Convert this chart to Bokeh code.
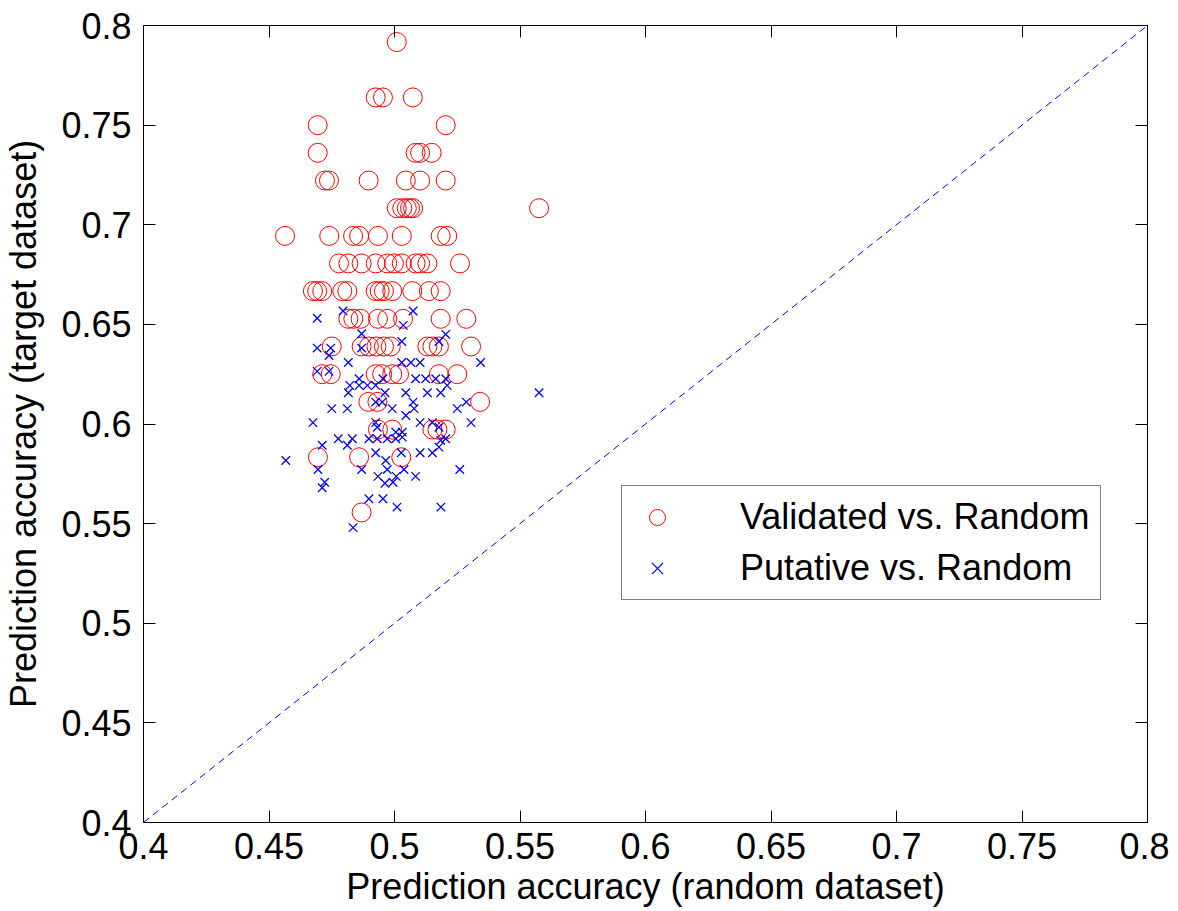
from bokeh.plotting import figure
from bokeh.models import Range1d, LinearAxis, FixedTicker, Legend, LegendItem
from bokeh.embed import file_html
from bokeh.resources import INLINE

# ---- data ----
tick_values = [0.4, 0.45, 0.5, 0.55, 0.6, 0.65, 0.7, 0.75, 0.8]
tick_labels = ["0.4", "0.45", "0.5", "0.55", "0.6", "0.65", "0.7", "0.75", "0.8"]

validated_x = [
    0.5009,
    0.4925, 0.4954, 0.5073,
    0.4694, 0.5204,
    0.4694, 0.5084, 0.5102, 0.5148,
    0.4723, 0.4739, 0.4897, 0.5045, 0.5102, 0.5204,
    0.5009, 0.5031, 0.5049, 0.5062, 0.5074, 0.5576,
    0.4564, 0.4740, 0.4835, 0.4859, 0.4934, 0.5029, 0.5184, 0.5210,
    0.4779, 0.4816, 0.4869, 0.4925, 0.4971, 0.4998, 0.5029, 0.5084, 0.5102, 0.5131, 0.5261,
    0.4675, 0.4692, 0.4712, 0.4792, 0.4812, 0.4925, 0.4941, 0.4958, 0.4991, 0.5071, 0.5137, 0.5184,
    0.4816, 0.4836, 0.4865, 0.4934, 0.4971, 0.5034, 0.5184, 0.5286,
    0.4750, 0.4869, 0.4898, 0.4928, 0.4958, 0.4985, 0.5131, 0.5151, 0.5177, 0.5305,
    0.4712, 0.4746, 0.4925, 0.4951, 0.4991, 0.5018, 0.5177, 0.5250,
    0.4896, 0.4932, 0.5341,
    0.4934, 0.4991, 0.5151, 0.5171, 0.5204,
    0.4695, 0.4859, 0.5027,
    0.4869,
]
validated_y = (
    [0.7917] * 1 + [0.7639] * 3 + [0.7500] * 2 + [0.7361] * 4 + [0.7222] * 6
    + [0.7083] * 6 + [0.6944] * 8 + [0.6806] * 11 + [0.6667] * 12 + [0.6528] * 8
    + [0.6389] * 10 + [0.6250] * 8 + [0.6111] * 3 + [0.5972] * 5 + [0.5833] * 3
    + [0.5556] * 1
)

putative_x = [
    0.4692, 0.4795, 0.5074, 0.5035, 0.4869, 0.5204, 0.4692, 0.4746, 0.4739, 0.4869,
    0.5029, 0.5177, 0.4816, 0.5029, 0.5065, 0.5102, 0.5343, 0.4692, 0.4739, 0.4954,
    0.4859, 0.4822, 0.4859, 0.4892, 0.4925, 0.5084, 0.5124, 0.5164, 0.5204, 0.5210,
    0.4816, 0.4962, 0.5045, 0.5131, 0.5184, 0.5576, 0.4925, 0.4951, 0.5074, 0.4750,
    0.4812, 0.4991, 0.5045, 0.5078, 0.5250, 0.5286, 0.4675, 0.4925, 0.4931, 0.5102,
    0.5151, 0.5177, 0.5305, 0.5005, 0.5031, 0.4712, 0.4776, 0.4832, 0.4812, 0.4898,
    0.4931, 0.4971, 0.5005, 0.5031, 0.5184, 0.5204, 0.5177, 0.4567, 0.4925, 0.5027,
    0.5102, 0.5151, 0.4965, 0.4695, 0.4869, 0.4971, 0.5038, 0.5260, 0.4934, 0.5084,
    0.5007, 0.4722, 0.4712, 0.4962, 0.4994, 0.4898, 0.4954, 0.5010, 0.5185, 0.4835,
]
putative_y = [
    0.6531, 0.6567, 0.6567, 0.6495, 0.6453, 0.6450, 0.6381, 0.6381, 0.6344, 0.6381,
    0.6414, 0.6414, 0.6309, 0.6309, 0.6309, 0.6309, 0.6309, 0.6264, 0.6264, 0.6227,
    0.6227, 0.6194, 0.6194, 0.6194, 0.6194, 0.6227, 0.6227, 0.6227, 0.6227, 0.6194,
    0.6157, 0.6157, 0.6157, 0.6157, 0.6157, 0.6157, 0.6110, 0.6110, 0.6110, 0.6077,
    0.6077, 0.6077, 0.6043, 0.6077, 0.6077, 0.6110, 0.6007, 0.6007, 0.5984, 0.6007,
    0.6007, 0.5984, 0.6007, 0.5959, 0.5959, 0.5893, 0.5926, 0.5926, 0.5893, 0.5926,
    0.5926, 0.5926, 0.5926, 0.5934, 0.5918, 0.5926, 0.5884, 0.5817, 0.5856, 0.5856,
    0.5856, 0.5856, 0.5817, 0.5772, 0.5772, 0.5772, 0.5772, 0.5772, 0.5737, 0.5737,
    0.5737, 0.5708, 0.5680, 0.5703, 0.5708, 0.5625, 0.5625, 0.5583, 0.5583, 0.5480,
]

diag_x = [0.4, 0.8]
diag_y = [0.4, 0.8]

FONT = "Liberation Sans"
FS = "36px"

p = figure(
    frame_width=1004, frame_height=797,
    min_border_left=137, min_border_right=22, min_border_top=25, min_border_bottom=76,
    x_range=Range1d(0.4, 0.8), y_range=Range1d(0.4, 0.8),
    output_backend="svg", toolbar_location=None,
    x_axis_label="Prediction accuracy (random dataset)",
    y_axis_label="Prediction accuracy (target dataset)",
)
p.background_fill_color = "white"
p.border_fill_color = "white"
p.outline_line_color = "black"
p.outline_line_width = 1
p.xgrid.visible = False
p.ygrid.visible = False

ticker = FixedTicker(ticks=tick_values)
overrides = {v: s for v, s in zip(tick_values, tick_labels)}
blank = {v: "" for v in tick_values}

for ax in (p.xaxis[0], p.yaxis[0]):
    ax.ticker = ticker
    ax.major_label_overrides = overrides
    ax.major_label_text_font = FONT
    ax.major_label_text_font_size = FS
    ax.major_label_text_color = "black"
    ax.axis_label_text_font = FONT
    ax.axis_label_text_font_size = FS
    ax.axis_label_text_font_style = "normal"
    ax.axis_label_text_color = "black"
    ax.major_tick_in = 12
    ax.major_tick_out = 0
    ax.minor_tick_line_color = None
    ax.axis_line_color = "black"
    ax.major_tick_line_color = "black"
p.xaxis[0].major_label_standoff = 10
p.xaxis[0].axis_label_standoff = 4
p.yaxis[0].major_label_standoff = 12
p.yaxis[0].axis_label_standoff = 14

for loc in ("above", "right"):
    ax = LinearAxis(ticker=ticker, major_label_overrides=blank)
    ax.major_tick_in = 12
    ax.major_tick_out = 0
    ax.minor_tick_line_color = None
    ax.major_label_standoff = 0
    ax.axis_line_color = "black"
    p.add_layout(ax, loc)

p.line(diag_x, diag_y, line_color="#0000ff", line_width=1, line_dash="7 5")

r_val = p.scatter(validated_x, validated_y, marker="circle", size=19,
                  fill_color=None, line_color="#ff0000", line_width=1)
r_put = p.scatter(putative_x, putative_y, marker="x", size=12,
                  line_color="#0000ff", line_width=1.3)

legend = Legend(
    items=[LegendItem(label="Validated vs. Random", renderers=[r_val]),
           LegendItem(label="Putative vs. Random", renderers=[r_put])],
    location=(478, 222),
    label_text_font=FONT, label_text_font_size=FS, label_text_color="black",
    glyph_width=50, glyph_height=40, label_height=40, label_standoff=58,
    spacing=9, padding=10, margin=0,
    border_line_color="black", border_line_width=1,
    background_fill_color="white", background_fill_alpha=1,
)
p.add_layout(legend, "center")

open("out.html", "w").write(file_html(p, INLINE))
